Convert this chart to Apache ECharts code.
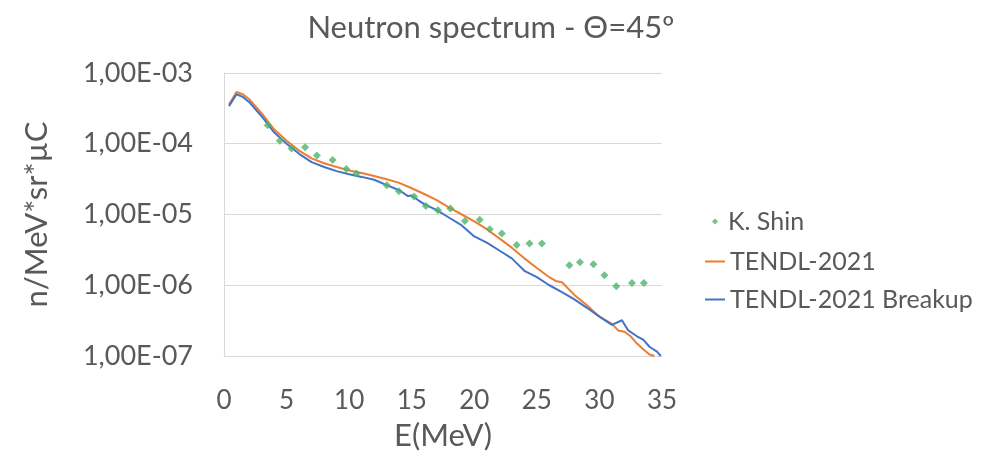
<!DOCTYPE html>
<html><head><meta charset="utf-8">
<script src="https://cdn.jsdelivr.net/npm/echarts@6/dist/echarts.min.js"></script>
<style>html,body{margin:0;padding:0;background:#fff}#c{width:990px;height:463px}</style>
</head><body><div id="c"></div>
<script>
const shinE = [3.49,4.46,5.40,6.48,7.42,8.68,9.78,10.59,13.01,13.98,15.19,16.13,17.10,18.09,19.25,20.43,21.24,22.2,23.39,24.41,25.4,27.6,28.44,29.52,30.40,31.35,32.6,33.55];
const shinFlux = [1.82e-4,1.10e-4,8.6e-5,8.9e-5,6.8e-5,5.9e-5,4.4e-5,3.8e-5,2.59e-5,2.13e-5,1.79e-5,1.32e-5,1.15e-5,1.22e-5,8.1e-6,8.4e-6,6.2e-6,5.4e-6,3.7e-6,3.9e-6,3.9e-6,1.91e-6,2.11e-6,1.98e-6,1.38e-6,9.7e-7,1.08e-6,1.08e-6];

const tendlE = [0.4,1.0,1.5,2,3,4,5,6,7,8,9,10,11,12,13,14,15,16,17,18,19,20,21,22,23,24,25,26,26.5,27,28,29,30,31,31.5,32,32.5,33,33.5,34,34.4];
const tendlFlux = [3.6e-4,5.4e-4,5.0e-4,4.3e-4,2.7e-4,1.6e-4,1.1e-4,8.0e-5,6.2e-5,5.3e-5,4.7e-5,4.2e-5,3.85e-5,3.5e-5,3.15e-5,2.8e-5,2.35e-5,1.95e-5,1.6e-5,1.25e-5,1.0e-5,8.0e-6,6.2e-6,4.6e-6,3.4e-6,2.4e-6,1.75e-6,1.3e-6,1.15e-6,1.1e-6,7.3e-7,5.2e-7,3.6e-7,2.85e-7,2.3e-7,2.2e-7,1.9e-7,1.5e-7,1.25e-7,1.05e-7,1.0e-7];

const breakE = [0.4,1.0,1.5,2,3,4,5,6,7,8,9,10,11,12,13,14,14.7,15,15.5,16,17,18,19,20,21,22,23,24,25,26,27,28,29,30,31,31.8,32.3,33,33.5,34,34.6,34.9];
const breakFlux = [3.4e-4,5.0e-4,4.6e-4,3.9e-4,2.45e-4,1.45e-4,1.0e-4,7.2e-5,5.5e-5,4.7e-5,4.1e-5,3.7e-5,3.4e-5,3.1e-5,2.6e-5,2.2e-5,1.82e-5,1.85e-5,1.6e-5,1.4e-5,1.15e-5,9.0e-6,7.0e-6,4.9e-6,4.0e-6,3.1e-6,2.4e-6,1.6e-6,1.3e-6,1.0e-6,8.0e-7,6.3e-7,4.8e-7,3.6e-7,2.75e-7,3.2e-7,2.3e-7,1.9e-7,1.7e-7,1.35e-7,1.15e-7,1.0e-7];

const yTickLabels = ['1,00E-07','1,00E-06','1,00E-05','1,00E-04','1,00E-03'];
const xTickLabels = ['0','5','10','15','20','25','30','35'];

const FONT = 'Lato, "Open Sans", sans-serif';
const TXT = '#595959';
const zip = (a,b) => a.map((v,i)=>[v,b[i]]);

const chart = echarts.init(document.getElementById('c'));
chart.setOption({
  animation:false,
  textStyle:{fontFamily:FONT,color:TXT},
  title:{text:'Neutron spectrum - \u0398=45\u00ba',left:486,top:7,textAlign:'center',
    textStyle:{fontFamily:FONT,fontSize:31,fontWeight:'normal',color:TXT}},
  grid:{left:224,right:328,top:73,bottom:107},
  xAxis:{type:'value',min:0,max:35,interval:5,
    name:'E(MeV)',nameLocation:'middle',nameGap:64,
    nameTextStyle:{fontFamily:FONT,fontSize:31,color:TXT},
    axisLine:{show:true,lineStyle:{color:'#d9d9d9',width:1}},
    axisTick:{show:false},splitLine:{show:false},
    axisLabel:{fontFamily:FONT,fontSize:26,color:TXT,margin:32,
      formatter:(v)=>xTickLabels[Math.round(v/5)]}},
  yAxis:{type:'log',logBase:10,min:1e-7,max:1e-3,
    name:'n/MeV*sr*\u00b5C',nameLocation:'middle',nameGap:172,
    nameTextStyle:{fontFamily:FONT,fontSize:31,color:TXT},
    axisLine:{show:true,lineStyle:{color:'#d9d9d9',width:1}},
    axisTick:{show:false},
    splitLine:{show:true,lineStyle:{color:'#d9d9d9',width:1}},
    axisLabel:{fontFamily:FONT,fontSize:27,color:TXT,margin:31,
      formatter:(v)=>yTickLabels[Math.round(Math.log10(v))+7]}},
  legend:[
    {orient:'vertical',left:707,top:204,itemWidth:6,itemHeight:6,
     data:[{name:'K. Shin',icon:'diamond'}],
     textStyle:{fontFamily:FONT,fontSize:25,color:TXT,padding:[0,0,0,5]}},
    {orient:'vertical',left:700,top:244,itemWidth:20,itemHeight:2,itemGap:13,
     data:[{name:'TENDL-2021',icon:'rect'},{name:'TENDL-2021 Breakup',icon:'rect'}],
     textStyle:{fontFamily:FONT,fontSize:25,color:TXT}}
  ],
  series:[
    {name:'K. Shin',type:'scatter',symbol:'diamond',symbolSize:8,
     itemStyle:{color:'#4fb36b'},data:zip(shinE,shinFlux),z:5},
    {name:'TENDL-2021',type:'line',symbol:'none',
     lineStyle:{color:'#ED7D31',width:2},itemStyle:{color:'#ED7D31'},
     data:zip(tendlE,tendlFlux)},
    {name:'TENDL-2021 Breakup',type:'line',symbol:'none',
     lineStyle:{color:'#4472C4',width:2},itemStyle:{color:'#4472C4'},
     data:zip(breakE,breakFlux)}
  ]
});
</script></body></html>
